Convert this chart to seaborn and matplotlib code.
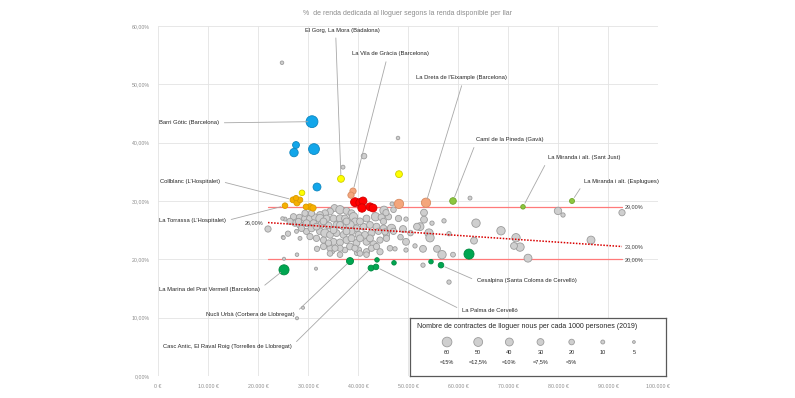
import pandas as pd
import numpy as np
import matplotlib
matplotlib.use("Agg")
import matplotlib.pyplot as plt
import seaborn as sns

sns.set_theme(style="white")
plt.rcParams["font.family"] = ["Liberation Sans", "DejaVu Sans"]

# ---------------------------------------------------------------
# Data: renda disponible per llar (EUR) vs % renda dedicada al lloguer,
# mida = contractes de lloguer nous per cada 1000 persones
# ---------------------------------------------------------------
gray_x = [24.8, 48.0, 41.2, 37.0, 29.0, 27.8,
          22.0, 25.0, 26.0, 25.4, 25.2, 27.8, 31.6, 31.8, 34.8, 37.4, 39.8, 41.8, 24.9,
          35.3, 36.4, 37.7, 38.7, 34.4, 33.4, 32.4, 45.2, 43.5, 44.7, 47.1,
          27.1, 28.3, 29.4, 30.4, 31.4, 32.4, 33.7, 35.1, 36.4, 37.4, 39.1, 39.4,
          27.4, 28.4, 29.7, 31.1, 32.7, 34.1, 35.7, 37.1, 38.4, 39.7, 41.1, 42.4, 43.7, 45.1, 46.7,
          27.7, 29.7, 32.4, 33.4, 34.4, 35.7, 37.1, 38.7, 40.1, 41.4, 42.7, 44.1, 45.7, 47.1,
          25.1, 28.4, 33.1, 35.1, 36.4, 37.7, 39.7, 41.7, 43.1, 44.4, 45.7,
          33.1, 34.4, 36.4, 38.4, 40.1, 41.7, 42.7, 44.4, 46.4,
          34.4, 36.4, 40.4, 41.7,
          26.4, 28.7, 30.7, 31.7, 35.1, 37.7, 40.4, 41.7, 30.4, 31.7, 34.1, 38.7, 40.4, 42.4,
          39.4, 43.7, 35.4, 28.1, 29.4, 30.7, 36.4, 37.7, 33.1, 45.1, 46.1, 48.1,
          46.8, 45.6, 49.0, 49.6, 52.4, 53.2, 53.2, 54.8, 54.2, 57.2, 58.2, 63.6, 63.2, 62.4,
          68.6, 71.6, 72.4, 71.2, 74.0, 80.0, 81.0, 92.8, 86.6, 49.6, 51.4, 53.0, 54.4, 55.8,
          56.8, 59.0, 49.6, 47.4, 53.0, 58.2, 45.4, 51.8, 48.5, 50.5]
gray_y = [53.7, 40.8, 37.7, 35.8, 11.7, 9.9,
          25.2, 23.8, 24.4, 26.9, 20.1, 20.8, 18.4, 21.8, 21.4, 21.6, 21.1, 21.3, 27.0,
          28.8, 28.5, 28.3, 27.9, 28.2, 27.9, 27.6, 28.4, 27.3, 27.2, 28.5,
          27.3, 27.2, 27.0, 27.0, 27.2, 27.0, 27.0, 27.0, 27.0, 27.0, 27.3, 26.5,
          26.2, 25.9, 26.2, 26.2, 26.0, 25.8, 25.9, 25.6, 25.9, 25.3, 25.6, 25.9, 25.6, 25.3, 25.3,
          24.8, 24.8, 24.8, 24.5, 24.2, 24.5, 24.2, 24.8, 24.2, 24.2, 24.5, 24.8, 24.2, 24.8,
          23.7, 23.6, 23.3, 23.0, 22.9, 23.3, 22.8, 23.0, 22.6, 23.3, 23.6,
          22.2, 21.9, 21.9, 22.2, 21.6, 21.3, 21.9, 21.3, 21.9,
          21.0, 20.8, 21.0, 20.8,
          26.5, 25.3, 25.3, 25.6, 25.0, 24.8, 26.5, 27.0, 23.9, 23.6, 22.8, 23.6, 23.6, 23.6,
          21.9, 22.2, 21.9, 26.5, 27.9, 27.9, 25.9, 26.5, 26.5, 26.5, 27.3, 27.0,
          29.5, 28.0, 25.2, 26.9, 25.6, 28.0, 26.8, 26.2, 24.5, 26.6, 24.4, 26.2, 23.2, 30.5,
          24.9, 23.7, 22.1, 22.3, 20.2, 28.3, 27.6, 28.0, 23.3, 23.0, 22.3, 21.8, 23.7, 21.8,
          20.8, 20.8, 21.6, 21.8, 19.0, 16.1, 24.7, 25.6, 23.8, 24.5]
gray_n = [8, 8, 20, 10, 6, 6,
          25, 8, 18, 10, 6, 8, 6, 18, 20, 20, 18, 18, 8,
          30, 45, 30, 30, 30, 30, 30, 45, 45, 30, 20,
          25, 25, 30, 30, 30, 45, 30, 30, 35, 30, 45, 30,
          25, 30, 30, 30, 35, 30, 30, 30, 45, 30, 30, 30, 30, 30, 45,
          10, 25, 30, 45, 30, 30, 30, 30, 30, 30, 30, 25, 25, 25,
          8, 10, 25, 30, 30, 30, 30, 30, 30, 25, 25,
          25, 25, 25, 30, 25, 25, 25, 25, 20,
          20, 20, 20, 20,
          25, 25, 30, 30, 30, 30, 30, 30, 25, 25, 25, 30, 30, 30,
          25, 25, 25, 25, 25, 25, 30, 30, 30, 25, 25, 25,
          10, 25, 30, 12, 40, 30, 30, 12, 45, 12, 12, 45, 30, 10,
          45, 45, 45, 30, 40, 35, 12, 25, 40, 30, 12, 30, 45, 30,
          45, 15, 12, 12, 12, 12, 25, 30, 20, 20]

hl_grup = ["blau"] * 5 + ["groc"] * 3 + ["taronja"] * 8 + ["vermell"] * 6 + \
          ["salmo"] * 4 + ["verd_clar"] * 3 + ["verd"] * 9
hl_x = [30.8, 27.6, 27.2, 31.2, 31.8,
        36.6, 48.2, 28.8,
        25.4, 27.0, 27.8, 28.4, 27.6, 30.4, 31.0, 29.6,
        39.4, 40.4, 41.0, 40.8, 42.4, 43.0,
        39.0, 38.6, 48.2, 53.6,
        59.0, 73.0, 82.8,
        25.2, 38.4, 43.8, 42.6, 43.6, 47.2, 54.6, 56.6, 62.2]
hl_y = [43.6, 39.6, 38.3, 38.9, 32.4,
        33.8, 34.6, 31.4,
        29.2, 30.2, 29.7, 30.2, 30.5, 29.0, 28.8, 29.0,
        29.8, 29.7, 30.0, 28.8, 29.0, 28.8,
        31.7, 31.0, 29.5, 29.7,
        30.0, 29.0, 30.0,
        18.2, 19.7, 19.9, 18.5, 18.7, 19.4, 19.6, 19.0, 20.9]
hl_n = [90, 30, 45, 75, 40,
        30, 30, 20,
        20, 22, 25, 20, 18, 25, 25, 20,
        50, 45, 40, 45, 40, 40,
        25, 25, 55, 55,
        28, 13, 16,
        65, 32, 13, 22, 20, 13, 13, 20, 65]
hl_zona = ["Barri Gòtic (Barcelona)", "", "", "", "",
           "El Gorg, La Mora (Badalona)", "", "",
           "La Torrassa (L’Hospitalet)", "Collblanc (L’Hospitalet)", "", "", "", "", "", "",
           "", "", "", "", "", "",
           "La Vila de Gràcia (Barcelona)", "", "", "La Dreta de l’Eixample (Barcelona)",
           "Camí de la Pineda (Gavà)", "La Miranda i alt. (Sant Just)", "La Miranda i alt. (Esplugues)",
           "La Marina del Prat Vermell (Barcelona)", "Nucli Urbà (Corbera de Llobregat)", "",
           "Casc Antic, El Raval Roig (Torrelles de Llobregat)", "La Palma de Cervelló", "", "",
           "Cesalpina (Santa Coloma de Cervelló)", ""]

# reference lines (renda, %)
ref_x = [22000, 92800]
ref_sup = [29.0, 29.0]
ref_inf = [20.0, 20.0]
ref_tend = [26.3, 22.2]

y_ticks = [0, 10, 20, 30, 40, 50, 60]
y_labels = ["0,00%", "10,00%", "20,00%", "30,00%", "40,00%", "50,00%", "60,00%"]
x_ticks = [0, 10000, 20000, 30000, 40000, 50000, 60000, 70000, 80000, 90000, 100000]
x_labels = ["0 €", "10.000 €", "20.000 €", "30.000 €", "40.000 €", "50.000 €",
            "60.000 €", "70.000 €", "80.000 €", "90.000 €", "100.000 €"]

leg_n = [60, 50, 40, 30, 20, 10, 5]
leg_pct = ["=15%", "=12,5%", "=10%", "=7,5%", "=5%", "", ""]

gray = pd.DataFrame({"renda": np.array(gray_x) * 1000, "pct": gray_y, "n": gray_n})
hl = pd.DataFrame({"renda": np.array(hl_x) * 1000, "pct": hl_y, "n": hl_n,
                   "grup": hl_grup, "zona": hl_zona})

colors = {"blau": ("#12a6ea", "#0d86bf"), "groc": ("#ffff00", "#cccc00"),
          "taronja": ("#f7b000", "#d99a00"), "vermell": ("#ff0000", "#d00000"),
          "salmo": ("#f4a67c", "#d88a60"), "verd_clar": ("#8dc63f", "#6fa52a"),
          "verd": ("#00a651", "#008a40")}

SIZES = (0, 81)
NORM = (0, 100)

fig = plt.figure(figsize=(7.95, 3.98), dpi=100)
ax = fig.add_axes([158 / 795, 22 / 398, 500 / 795, 350 / 398])

sns.scatterplot(data=gray, x="renda", y="pct", size="n", sizes=SIZES, size_norm=NORM,
                color="#cfcfcf", edgecolor="#9c9c9c", linewidth=0.6, legend=False, ax=ax, zorder=3)
for g, (fc, ec) in colors.items():
    sub = hl[hl["grup"] == g]
    sns.scatterplot(data=sub, x="renda", y="pct", size="n", sizes=SIZES, size_norm=NORM,
                    color=fc, edgecolor=ec, linewidth=0.6, legend=False, ax=ax, zorder=4)

ax.plot(ref_x, ref_sup, color="#ff7a7a", lw=0.9, zorder=2)
ax.plot(ref_x, ref_inf, color="#ff7a7a", lw=0.9, zorder=2)
ax.plot(ref_x, ref_tend, color="#d90000", lw=1.1, ls=(0, (1, 1)), zorder=5)

lbl = dict(fontsize=4.0, color="#404040", va="center")
ax.text(ref_x[1] + 600, ref_sup[1], "29,00%", **lbl)
ax.text(ref_x[1] + 600, ref_inf[1], "20,00%", **lbl)
ax.text(ref_x[1] + 600, ref_tend[1], "23,00%", **lbl)
ax.text(ref_x[0] - 1000, ref_tend[0], "26,00%", ha="right", **lbl)

# label layout: text position (renda, %), where the leader leaves the text
label_pos = {
    "El Gorg, La Mora (Badalona)": (29400, 59.3, (0.41, 0)),
    "La Vila de Gràcia (Barcelona)": (38800, 55.2, (0.46, 0)),
    "La Dreta de l’Eixample (Barcelona)": (51600, 51.1, (0.52, 0)),
    "Camí de la Pineda (Gavà)": (63600, 40.5, (0, 0)),
    "La Miranda i alt. (Sant Just)": (78000, 37.4, (0, 0.2)),
    "La Miranda i alt. (Esplugues)": (85200, 33.4, (0, 0.2)),
    "Barri Gòtic (Barcelona)": (200, 43.4, (1, 0.5)),
    "Collblanc (L’Hospitalet)": (400, 33.4, (1, 0.5)),
    "La Torrassa (L’Hospitalet)": (200, 26.6, (1, 0.5)),
    "La Marina del Prat Vermell (Barcelona)": (200, 14.9, (1, 0.5)),
    "Nucli Urbà (Corbera de Llobregat)": (9600, 10.5, (1, 0.7)),
    "Casc Antic, El Raval Roig (Torrelles de Llobregat)": (1000, 5.1, (1, 0.5)),
    "Cesalpina (Santa Coloma de Cervelló)": (63800, 16.3, (0, 0.5)),
    "La Palma de Cervelló": (60800, 11.3, (0, 0.5)),
}
for _, r in hl[hl["zona"] != ""].iterrows():
    tx, ty, rp = label_pos[r["zona"]]
    ax.annotate(r["zona"], xy=(r["renda"], r["pct"]), xytext=(tx, ty),
                fontsize=4.25, color="#262626", ha="left", va="center", zorder=6,
                arrowprops=dict(arrowstyle="-", color="#a8a8a8", lw=0.6,
                                shrinkA=1.5, shrinkB=3, relpos=rp))

ax.set_xlim(0, 100000)
ax.set_ylim(0, 60)
ax.set_xticks(x_ticks)
ax.set_xticklabels(x_labels)
ax.set_yticks(y_ticks)
ax.set_yticklabels(y_labels)
ax.tick_params(length=0, labelsize=3.8, colors="#8c8c8c", pad=6)
ax.set_xlabel("")
ax.set_ylabel("")
ax.grid(True, color="#e3e3e3", lw=0.6)
ax.set_axisbelow(True)
for s in ax.spines.values():
    s.set_visible(False)

fig.text(0.513, 0.965, "%  de renda dedicada al lloguer segons la renda disponible per llar",
         fontsize=5.0, color="#8c8c8c", ha="center", va="center")

# size legend box
lax = fig.add_axes([410 / 795, 22 / 398, 256 / 795, 58 / 398])
lax.set_facecolor("white")
leg = pd.DataFrame({"pos": range(len(leg_n)), "y": [0.586] * len(leg_n), "n": leg_n})
sns.scatterplot(data=leg, x="pos", y="y", size="n", sizes=SIZES, size_norm=NORM,
                color="#cfcfcf", edgecolor="#9c9c9c", linewidth=0.6, legend=False, ax=lax)
for i, (n, p) in enumerate(zip(leg_n, leg_pct)):
    lax.text(i, 0.40, str(n), fontsize=4.0, color="#262626", ha="center", va="center")
    if p:
        lax.text(i, 0.24, p, fontsize=4.0, color="#262626", ha="center", va="center")
lax.text(0.027, 0.86, "Nombre de contractes de lloguer nous per cada 1000 persones (2019)",
         transform=lax.transAxes, fontsize=5.0, color="#262626", va="center")
lax.set_xlim(-1.19, 7.03)
lax.set_ylim(0, 1)
lax.set_xticks([])
lax.set_yticks([])
lax.set_xlabel("")
lax.set_ylabel("")
for s in lax.spines.values():
    s.set_visible(True)
    s.set_color("#595959")
    s.set_linewidth(0.9)

plt.savefig("out.png", dpi=100)
plt.close()
